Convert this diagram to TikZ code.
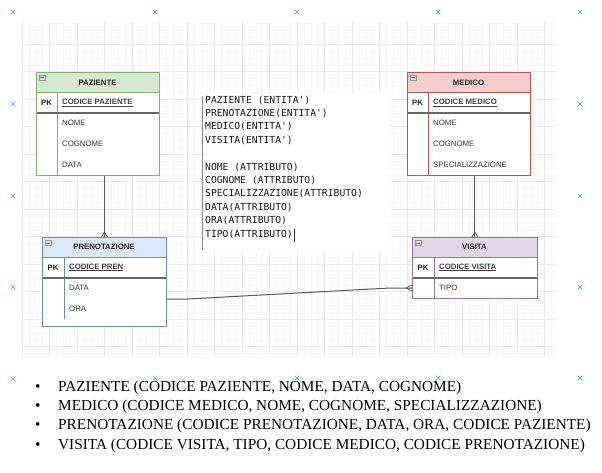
\documentclass[tikz,border=0pt]{standalone}
\usepackage{fontspec}
\setmainfont{Liberation Serif}
\setsansfont{Liberation Sans}
\setmonofont{DejaVu Sans Mono}
\usetikzlibrary{calc}
\definecolor{gfill}{HTML}{D5E8D4}\definecolor{gline}{HTML}{82B366}
\definecolor{rfill}{HTML}{F8CECC}\definecolor{rline}{HTML}{B85450}
\definecolor{bfill}{HTML}{DAE8FC}\definecolor{bline}{HTML}{6C8EBF}
\definecolor{pfill}{HTML}{E1D5E7}\definecolor{pline}{HTML}{9673A6}
\definecolor{xblue}{HTML}{29B6F2}
\definecolor{gridmin}{HTML}{F6F6F6}\definecolor{gridmaj}{HTML}{E8E8E8}
\tikzset{
  ebox/.style={draw, line width=0.8pt, fill=white, inner sep=0pt, anchor=north west},
  boxline/.style={line width=0.8pt},
  pkline/.style={line width=1.2pt, draw=black!60},
  hdrtext/.style={font=\sffamily\bfseries\fontsize{7.8}{9}\selectfont, text=black!85, inner sep=0pt},
  keytext/.style={font=\sffamily\bfseries\fontsize{7.8}{9}\selectfont, text=black!75, anchor=west, inner sep=0pt},
  fldtext/.style={font=\sffamily\fontsize{7.8}{9}\selectfont, text=black!78, anchor=west, inner sep=0pt},
  conn/.style={draw=black!65, line width=1pt},
  foot/.style={draw=black!65, line width=0.8pt},
  xmark/.style={draw=xblue, line width=0.7pt},
  minusicon/.style={fill=black!12, draw=black!40, line width=0.4pt},
  bullettext/.style={font=\fontsize{15.3}{18}\selectfont, anchor=base west, inner sep=0pt},
}
\begin{document}
\begin{tikzpicture}[x=1pt,y=-1pt]
\useasboundingbox (0,0) rectangle (602,473);
\fill[white] (0,0) rectangle (602,473);
% grid
\foreach \i in {0,...,77} \draw[gridmin, line width=0.5pt] ({22+\i*6.875},22) -- ({22+\i*6.875},357);
\foreach \i in {0,...,48} \draw[gridmin, line width=0.5pt] (22,{23.6+\i*6.875}) -- (556,{23.6+\i*6.875});
\foreach \i in {0,...,19} \draw[gridmaj, line width=0.7pt] ({22+\i*27.5},22) -- ({22+\i*27.5},357);
\foreach \i in {0,...,11} \draw[gridmaj, line width=0.7pt] (22,{44.2+\i*27.5}) -- (556,{44.2+\i*27.5});
% x marks
\foreach \x/\y in {13/12,155/12,297/12,438/12,580/12,13/104,580/104,13/196,580/196,13/287,580/287,13/379,155/378,297/378,438/378,580/378}
  \draw[xmark] (\x-2.3,\y-2.3) -- (\x+2.3,\y+2.3) (\x-2.3,\y+2.3) -- (\x+2.3,\y-2.3);

% ---------- PAZIENTE ----------
\node[ebox, draw=gline, minimum width=123pt, minimum height=103pt] (paz) at (36,72) {};
\fill[gfill] (36,72) rectangle (159,92.5);
\draw[gline, boxline] (36,92.5) -- (159,92.5) (57,92.5) -- (57,175);
\draw[pkline] (36,113) -- (159,113);
\draw[gline, boxline] (paz.north west) rectangle (paz.south east);
\draw[minusicon] (39,75) rectangle (45,80.5); \draw[black!55, line width=0.6pt] (40.3,77.8) -- (43.7,77.8);
\node[hdrtext] (pazT) at (97.5,82.5) {PAZIENTE};
\node[hdrtext] (pazPK) at (46.5,103) {PK};
\node[keytext] (pazK) at (62,103) {\underline{CODICE PAZIENTE}};
\node[fldtext] (pazF1) at (62,123) {NOME};
\node[fldtext] (pazF2) at (62,144) {COGNOME};
\node[fldtext] (pazF3) at (62,165) {DATA};

% ---------- MEDICO ----------
\node[ebox, draw=rline, minimum width=123pt, minimum height=103pt] (med) at (407,72) {};
\fill[rfill] (407,72) rectangle (530,92.5);
\draw[rline, boxline] (407,92.5) -- (530,92.5) (428,92.5) -- (428,175);
\draw[pkline] (407,113) -- (530,113);
\draw[rline, boxline] (med.north west) rectangle (med.south east);
\draw[minusicon] (410,75) rectangle (416,80.5); \draw[black!55, line width=0.6pt] (411.3,77.8) -- (414.7,77.8);
\node[hdrtext] (medT) at (468.5,82.5) {MEDICO};
\node[hdrtext] (medPK) at (417.5,103) {PK};
\node[keytext] (medK) at (433,103) {\underline{CODICE MEDICO}};
\node[fldtext] (medF1) at (433,123) {NOME};
\node[fldtext] (medF2) at (433,144) {COGNOME};
\node[fldtext] (medF3) at (433,165) {SPECIALIZZAZIONE};

% ---------- PRENOTAZIONE ----------
\node[ebox, draw=bline, minimum width=124pt, minimum height=89pt] (pren) at (42,237) {};
\fill[bfill] (42,237) rectangle (166,257);
\draw[bline, boxline] (42,257) -- (166,257) (64,257) -- (64,319);
\draw[pkline] (42,278) -- (166,278);
\draw[bline, boxline] (pren.north west) rectangle (pren.south east);
\draw[minusicon] (45,240) rectangle (51,245.5); \draw[black!55, line width=0.6pt] (46.3,242.8) -- (49.7,242.8);
\node[hdrtext] (prenT) at (104,247) {PRENOTAZIONE};
\node[hdrtext] (prenPK) at (53,267.5) {PK};
\node[keytext] (prenK) at (69,267.5) {\underline{CODICE PREN}};
\node[fldtext] (prenF1) at (69,288) {DATA};
\node[fldtext] (prenF2) at (69,309) {ORA};

% ---------- VISITA ----------
\node[ebox, draw=pline, minimum width=125pt, minimum height=61pt] (vis) at (412,237) {};
\fill[pfill] (412,237) rectangle (537,257);
\draw[pline, boxline] (412,257) -- (537,257) (434,257) -- (434,298);
\draw[pkline] (412,278) -- (537,278);
\draw[pline, boxline] (vis.north west) rectangle (vis.south east);
\draw[minusicon] (415,240) rectangle (421,245.5); \draw[black!55, line width=0.6pt] (416.3,242.8) -- (419.7,242.8);
\node[hdrtext] (visT) at (474.5,247) {VISITA};
\node[hdrtext] (visPK) at (423,267.5) {PK};
\node[keytext] (visK) at (439,267.5) {\underline{CODICE VISITA}};
\node[fldtext] (visF1) at (439,288) {TIPO};

% ---------- connectors ----------
\draw[conn] (paz.south -| pren.north) -- (pren.north);
\draw[foot] ($(pren.north)+(-3,0)$) -- ($(pren.north)+(0,-5)$) -- ($(pren.north)+(3,0)$);
\draw[conn] (med.south -| vis.north) -- (vis.north);
\draw[foot] ($(vis.north)+(-3,0)$) -- ($(vis.north)+(0,-5)$) -- ($(vis.north)+(3,0)$);
\coordinate (pout) at (pren.east |- 0,299);
\coordinate (vin) at (vis.west |- visF1);
\draw[conn] (pout) -- ++(21,0) -- (390,288) -- (vin);
\draw[foot] ($(vin)+(0,-3)$) -- ($(vin)+(-6,0)$) -- ($(vin)+(0,3)$);

% ---------- note box ----------
\fill[white] (202,93) rectangle (390,252);
\draw[black!45, line width=0.8pt] (202,96) -- (202,250);
\node[font=\ttfamily\fontsize{9.7}{13.4}\selectfont, text=black!90, align=left, anchor=north west, inner sep=0pt] (notes) at (205,95.5)
{PAZIENTE (ENTITA')\\PRENOTAZIONE(ENTITA')\\MEDICO(ENTITA')\\VISITA(ENTITA')\\[13.4pt]NOME (ATTRIBUTO)\\COGNOME (ATTRIBUTO)\\SPECIALIZZAZIONE(ATTRIBUTO)\\DATA(ATTRIBUTO)\\ORA(ATTRIBUTO)\\TIPO(ATTRIBUTO)};
\draw[black!80, line width=0.6pt] (294.5,228.5) -- (294.5,241.5);

% ---------- bullet list ----------
\foreach \yy/\txt [count=\k] in {391/{PAZIENTE (CODICE PAZIENTE, NOME, DATA, COGNOME)},
  410.3/{MEDICO (CODICE MEDICO, NOME, COGNOME, SPECIALIZZAZIONE)},
  429.7/{PRENOTAZIONE (CODICE PRENOTAZIONE, DATA, ORA, CODICE PAZIENTE)},
  449/{VISITA (CODICE VISITA, TIPO, CODICE MEDICO, CODICE PRENOTAZIONE)}} {
  \node[bullettext] (b\k) at (35,\yy) {\textbullet};
  \node[bullettext] (t\k) at (58,\yy) {\txt};
}
\end{tikzpicture}
\end{document}
